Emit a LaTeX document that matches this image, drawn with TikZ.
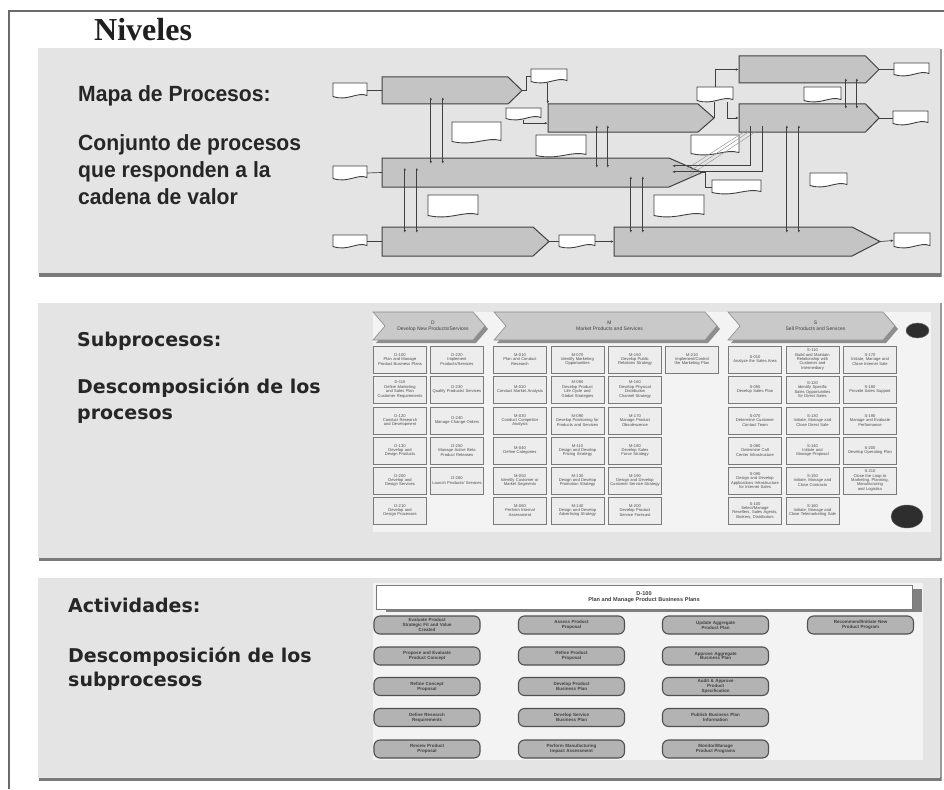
\documentclass[tikz,border=0pt]{standalone}
\usepackage{fontspec}
\setmainfont{Liberation Serif}
\newfontfamily\arialf{Liberation Sans}
\newfontfamily\mapf[FakeStretch=0.96]{Liberation Sans}
\newfontfamily\panelf{DejaVu Sans}
\usetikzlibrary{calc,arrows.meta,shapes.geometric}
\hyphenpenalty=10000
\exhyphenpenalty=10000
\definecolor{panelgray}{HTML}{E4E4E4}
\definecolor{pshadow}{HTML}{9A9A9A}
\definecolor{pshadowdark}{HTML}{7A7A7A}
\definecolor{procfill}{HTML}{C4C4C4}
\definecolor{procline}{HTML}{404040}
\definecolor{innerfill}{HTML}{F3F3F3}
\definecolor{boxfill}{HTML}{EDEDED}
\definecolor{boxline}{HTML}{7A7A7A}
\definecolor{actfill}{HTML}{B3B3B3}
\definecolor{actline}{HTML}{505050}
\definecolor{chevfill}{HTML}{C9C9C9}
\definecolor{chevshadow}{HTML}{8E8E8E}
\definecolor{framec}{HTML}{6A6A6A}
\tikzset{
  frameline/.style={draw=framec, line width=1.1pt},
  panelbox/.style={fill=panelgray, draw=none, inner sep=0pt},
  maptxt/.style={anchor=base west, inner sep=0pt, font=\mapf\bfseries\fontsize{22}{26}\selectfont, text=black!85},
  paneltxt/.style={anchor=base west, inner sep=0pt, font=\panelf\bfseries\fontsize{19}{23}\selectfont, text=black!85},
  proc/.style={fill=procfill, draw=procline, line width=1pt},
  anchorbox/.style={inner sep=0pt, draw=none},
  docline/.style={fill=white, draw=procline, line width=0.9pt},
  lnk/.style={draw=procline, line width=0.7pt},
  arr/.style={lnk, -{Latex[length=3pt,width=2.6pt]}},
  dbl/.style={lnk, {Latex[length=2.6pt,width=2.2pt]}-{Latex[length=2.6pt,width=2.2pt]}},
  diag/.style={draw=black!40, line width=0.5pt},
  sub/.style={draw=boxline, fill=boxfill, line width=0.8pt, minimum width=53pt, minimum height=27pt,
    inner sep=0.3pt, text width=50pt, align=center, font=\arialf\fontsize{4.1}{4.4}\selectfont, text=black!70},
  chevtxt/.style={inner sep=0pt, align=center, font=\arialf\fontsize{5}{5.6}\selectfont, text=black!75},
  hdr/.style={draw=boxline, fill=white, line width=0.9pt, minimum width=536pt, minimum height=24pt, inner sep=0pt,
    align=center, font=\arialf\bfseries\fontsize{5.6}{6.4}\selectfont, text=black!75},
  act/.style={draw=actline, fill=actfill, line width=1.1pt, rounded corners=6pt, minimum width=106pt, minimum height=18pt,
    inner sep=0.3pt, text width=102pt, align=center, font=\arialf\bfseries\fontsize{4.5}{4.9}\selectfont, text=black!75},
  disc/.style={ellipse, fill=black!82, draw=black!60, inner sep=0pt}
}
% process pentagon: name, xl, yt, xtip, yb, tiplength
\newcommand\procshape[6]{%
  \draw[proc] (#2,#3) -- ({#4-#6},#3) -- (#4,{(#3+#5)/2}) -- ({#4-#6},#5) -- (#2,#5) -- cycle;
  \node[anchorbox, minimum width={#4-#2}, minimum height={#5-#3}] (#1) at ({(#2+#4)/2},{(#3+#5)/2}) {};}
% document: name, xl, yt, xr, yb
\newcommand\docshape[5]{%
  \node[anchorbox, minimum width={#4-#2}, minimum height={#5-#3}] (#1) at ({(#2+#4)/2},{(#3+#5)/2}) {};
  \draw[docline] (#2,#3) -- (#4,#3) -- (#4,{#5-2.5})
     .. controls ({#4-0.3*(#4-#2)},{#5-6.5}) and ({#2+0.45*(#4-#2)},{#5+3.5}) .. (#2,{#5-1.5}) -- cycle;}
% chevron: name, xl, yt, xr, yb, text
\newcommand\chevshape[6]{%
  \begin{scope}[shift={(3,3)}]
  \fill[chevshadow] (#2,#3) -- ({#4-12},#3) -- (#4,{(#3+#5)/2}) -- ({#4-12},#5) -- (#2,#5) -- ({#2+12},{(#3+#5)/2}) -- cycle;
  \end{scope}
  \draw[fill=chevfill, draw=black!45, line width=0.6pt] (#2,#3) -- ({#4-12},#3) -- (#4,{(#3+#5)/2}) -- ({#4-12},#5) -- (#2,#5) -- ({#2+12},{(#3+#5)/2}) -- cycle;
  \node[chevtxt] (#1) at ({(#2+#4)/2+4},{(#3+#5)/2}) {#6};}
\begin{document}
\begin{tikzpicture}[x=1pt,y=-1pt]
\useasboundingbox (0,0) rectangle (944,789);
\fill[white] (0,0) rectangle (944,789);
\draw[frameline] (9,789) -- (9,11) -- (944,11);
\node[anchor=base west, inner sep=0pt, font=\bfseries\fontsize{32}{35}\selectfont, text=black!88] (title) at (94,41) {Niveles};

% ---------------- panel 1 ----------------
\fill[pshadow] (39,49) rectangle (942,277);
\fill[pshadowdark] (39,273) rectangle (941,277);
\node[panelbox, minimum width=902pt, minimum height=225pt] (p1) at (489,160.5) {};
\node[maptxt] (t1a) at (78,102) {Mapa de Procesos:};
\node[maptxt] (t1b) at (78,150) {Conjunto de procesos};
\node[maptxt] (t1c) at (78,177) {que responden a la};
\node[maptxt] (t1d) at (78,204) {cadena de valor};

\procshape{A}{382}{77}{522}{104}{14}
\procshape{B}{548}{104}{714}{132}{16}
\procshape{C}{382}{158}{702}{187}{33}
\procshape{D}{739}{56}{879}{83}{13.5}
\procshape{E}{739}{104}{879}{132}{13.5}
\procshape{F}{382}{227}{549}{256}{16}
\procshape{G}{614}{227}{880}{256}{28}

\docshape{dAin}{333}{83}{367}{98}
\docshape{dAout}{531}{69}{567}{83}
\docshape{dBin}{506}{108}{541}{120}
\docshape{dAC}{452}{122}{501}{143}
\docshape{dBunder}{536}{135}{586}{157}
\docshape{dBD}{697}{87}{733}{102}
\docshape{dDE}{804}{87}{841}{102}
\docshape{dBtip}{691}{135}{739}{155}
\docshape{dCin}{333}{166}{367}{180}
\docshape{dCout}{712}{180}{761}{194}
\docshape{dMid}{810}{173}{847}{187}
\docshape{dCF}{428}{195}{478}{217}
\docshape{dCG}{654}{195}{704}{217}
\docshape{dFin}{333}{235}{367}{248}
\docshape{dFG}{559}{235}{595}{248}
\docshape{dDout}{894}{63}{929}{76}
\docshape{dEout}{893}{111}{928}{125}
\docshape{dGout}{894}{233}{930}{248}

% inputs / outputs
\draw[lnk] (dAin.east) -- (A.west);
\draw[lnk] (dCin.east) -- (C.west);
\draw[lnk] (dFin.east) -- (F.west);
\draw[lnk] (A.east) -- ++(4,0) |- (dAout.west);
\draw[arr] (dAout.south -| B.north west) -- (B.north west);
\draw[arr] (dBin.south) |- ($(B.south west)+(0,-9)$);
\draw[lnk] (B.east) -- (B.east |- dBD.south);
\draw[arr] (dBD.north) |- (D.west);
\draw[arr] ($(dBD.south)+(12,0)$) |- (E.west);
\draw[lnk] (D.east) -- (dDout.west);
\draw[lnk] (E.east) -- (dEout.west);
\draw[lnk] (F.east) -- (dFG.west);
\draw[arr] (dFG.east) -- (G.west);
\draw[arr] (G.east) -- (dGout.west);
\draw[lnk] (C.east) -- ++(3,0) |- (dCout.west);
% vertical exchanges
\draw[dbl] ($(A.south west)+(49,-7)$) -- ($(C.north west)+(49,6)$);
\draw[dbl] ($(A.south west)+(61,-7)$) -- ($(C.north west)+(61,6)$);
\draw[dbl] ($(B.south west)+(49,-7)$) -- ($(C.north west)+(215,10)$);
\draw[dbl] ($(B.south west)+(60,-7)$) -- ($(C.north west)+(226,10)$);
\draw[dbl] ($(C.north west)+(23,10)$) -- ($(F.north west)+(23,6)$);
\draw[dbl] ($(C.north west)+(35,10)$) -- ($(F.north west)+(35,6)$);
\draw[dbl] ($(C.south west)+(249,-11)$) -- ($(G.north west)+(17,6)$);
\draw[dbl] ($(C.south west)+(261,-11)$) -- ($(G.north west)+(29,6)$);
\draw[dbl] ($(E.south west)+(48,-7)$) -- ($(G.north west)+(173,6)$);
\draw[dbl] ($(E.south west)+(60,-7)$) -- ($(G.north west)+(185,6)$);
\draw[dbl] ($(D.south west)+(107,-5)$) -- ($(E.north west)+(107,5)$);
\draw[dbl] ($(D.south west)+(118,-5)$) -- ($(E.north west)+(118,5)$);
% E to C
\draw[diag] ($(E.south west)+(8,-2)$) -- ($(C.east)+(-15,-4)$);
\draw[diag] ($(E.south west)+(11,-1)$) -- ($(C.east)+(-13,-1)$);
\draw[diag] ($(E.south west)+(16,0)$) -- ($(C.east)+(-13,3)$);
\draw[arr] ($(E.south west)+(12,-6)$) |- ($(C.north east)+(-30,8)$);
\draw[arr] ($(E.south west)+(24,-6)$) |- ($(C.north east)+(-30,14)$);

% ---------------- panel 2 ----------------
\fill[pshadow] (39,303) rectangle (942,561);
\fill[pshadowdark] (39,557) rectangle (941,561);
\node[panelbox, minimum width=902pt, minimum height=255pt] (p2) at (489,430) {};
\node[paneltxt] (t2a) at (77,346) {Subprocesos:};
\node[paneltxt] (t2b) at (77,393) {Descomposición de los};
\node[paneltxt] (t2c) at (77,419) {procesos};
\node[panelbox, fill=innerfill, minimum width=558pt, minimum height=220pt] (in2) at (652,422) {};

\chevshape{chD}{373}{312}{485}{340}{D\\Develop New Products/Services}
\chevshape{chM}{494}{312}{717}{340}{M\\Market Products and Services}
\chevshape{chS}{728}{312}{895}{340}{S\\Sell Products and Services}
\node[disc, minimum width=23pt, minimum height=15pt] (k1) at (917.5,330.5) {};
\node[disc, minimum width=32pt, minimum height=23pt] (k2) at (907,516.5) {};

% D columns
\node[sub] (d1) at (400,359.5) {D-100\\Plan and Manage Product Business Plans};
\node[sub] (d2) at (400,389.5) {D-110\\Define Marketing and Sales Plan Customer Requirements};
\node[sub] (d3) at (400,420.5) {D-120\\Conduct Research and Development};
\node[sub] (d4) at (400,450.5) {D-130\\Develop and Design Products};
\node[sub] (d5) at (400,480.5) {D-200\\Develop and Design Services};
\node[sub] (d6) at (400,510.5) {D-210\\Develop and Design Processes};
\node[sub] (d7) at (457,359.5) {D-220\\Implement Products/Services};
\node[sub] (d8) at (457,389.5) {D-230\\Qualify Products/ Services};
\node[sub] (d9) at (457,420.5) {D-240\\Manage Change Orders};
\node[sub] (d10) at (457,450.5) {D-250\\Manage Active Beta Product Releases};
\node[sub] (d11) at (457,480.5) {D-260\\Launch Products/ Services};
% M columns
\node[sub] (m1) at (520,359.5) {M-010\\Plan and Conduct Research};
\node[sub] (m2) at (520,389.5) {M-020\\Conduct Market Analysis};
\node[sub] (m3) at (520,420.5) {M-030\\Conduct Competitor Analysis};
\node[sub] (m4) at (520,450.5) {M-040\\Define Categories};
\node[sub] (m5) at (520,480.5) {M-050\\Identify Customer or Market Segments};
\node[sub] (m6) at (520,510.5) {M-060\\Perform Internal Assessment};
\node[sub] (m7) at (577.5,359.5) {M-070\\Identify Marketing Opportunities};
\node[sub] (m8) at (577.5,389.5) {M-080\\Develop Product Life Cycle and Global Strategies};
\node[sub] (m9) at (577.5,420.5) {M-090\\Develop Positioning for Products and Services};
\node[sub] (m10) at (577.5,450.5) {M-110\\Design and Develop Pricing Strategy};
\node[sub] (m11) at (577.5,480.5) {M-130\\Design and Develop Promotion Strategy};
\node[sub] (m12) at (577.5,510.5) {M-140\\Design and Develop Advertising Strategy};
\node[sub] (m13) at (635,359.5) {M-150\\Develop Public Relations Strategy};
\node[sub] (m14) at (635,389.5) {M-160\\Develop Physical Distribution Channel Strategy};
\node[sub] (m15) at (635,420.5) {M-170\\Manage Product Obsolescence};
\node[sub] (m16) at (635,450.5) {M-180\\Develop Sales Force Strategy};
\node[sub] (m17) at (635,480.5) {M-190\\Design and Develop Customer Service Strategy};
\node[sub] (m18) at (635,510.5) {M-200\\Develop Product Service Forecast};
\node[sub] (m19) at (692,359.5) {M-210\\Implement/Control the Marketing Plan};
% S columns
\node[sub] (s1) at (755,359.5) {S-010\\Analyze the Sales Area};
\node[sub] (s2) at (755,389.5) {S-050\\Develop Sales Plan};
\node[sub] (s3) at (755,420.5) {S-070\\Determine Customer Contact Team};
\node[sub] (s4) at (755,450.5) {S-080\\Determine Call Center Infrastructure};
\node[sub] (s5) at (755,480.5) {S-090\\Design and Develop Applications Infrastructure for Internet Sales};
\node[sub] (s6) at (755,510.5) {S-100\\Select/Manage Resellers, Sales Agents, Brokers, Distributors};
\node[sub] (s7) at (812.5,359.5) {S-110\\Build and Maintain Relationship with Customer and Intermediary};
\node[sub] (s8) at (812.5,389.5) {S-120\\Identify Specific Sales Opportunities for Direct Sales};
\node[sub] (s9) at (812.5,420.5) {S-130\\Initiate, Manage and Close Direct Sale};
\node[sub] (s10) at (812.5,450.5) {S-140\\Initiate and Manage Proposal};
\node[sub] (s11) at (812.5,480.5) {S-150\\Initiate, Manage and Close Contracts};
\node[sub] (s12) at (812.5,510.5) {S-160\\Initiate, Manage and Close Telemarketing Sale};
\node[sub] (s13) at (870,359.5) {S-170\\Initiate, Manage and Close Internet Sale};
\node[sub] (s14) at (870,389.5) {S-180\\Provide Sales Support};
\node[sub] (s15) at (870,420.5) {S-190\\Manage and Evaluate Performance};
\node[sub] (s16) at (870,450.5) {S-200\\Develop Operating Plan};
\node[sub] (s17) at (870,480.5) {S-210\\Close the Loop to Marketing, Planning, Manufacturing and Logistics};

% ---------------- panel 3 ----------------
\fill[pshadow] (39,578) rectangle (942,781);
\fill[pshadowdark] (39,777) rectangle (941,781);
\node[panelbox, minimum width=902pt, minimum height=200pt] (p3) at (489,677.5) {};
\node[paneltxt] (t3a) at (68,612) {Actividades:};
\node[paneltxt] (t3b) at (68,662) {Descomposición de los};
\node[paneltxt] (t3c) at (68,686) {subprocesos};
\node[panelbox, fill=innerfill, minimum width=550pt, minimum height=177pt] (in3) at (648,671.5) {};
\fill[black!50] (386,589) rectangle (922,612);
\node[hdr] (h) at (644,597) {D-100\\Plan and Manage Product Business Plans};

\node[act] (a1) at (427,625) {Evaluate Product\\Strategic Fit and Value\\Created};
\node[act] (a2) at (427,656) {Propose and Evaluate\\Product Concept};
\node[act] (a3) at (427,686.5) {Refine Concept\\Proposal};
\node[act] (a4) at (427,717.5) {Define Research\\Requirements};
\node[act] (a5) at (427,749) {Review Product\\Proposal};
\node[act] (a6) at (571.5,625) {Assess Product\\Proposal};
\node[act] (a7) at (571.5,656) {Refine Product\\Proposal};
\node[act] (a8) at (571.5,686.5) {Develop Product\\Business Plan};
\node[act] (a9) at (571.5,717.5) {Develop Service\\Business Plan};
\node[act] (a10) at (571.5,749) {Perform Manufacturing\\Impact Assessment};
\node[act] (a11) at (715.5,625) {Update Aggregate\\Product Plan};
\node[act] (a12) at (715.5,656) {Approve Aggregate\\Business Plan};
\node[act] (a13) at (715.5,686.5) {Audit \& Approve\\Product\\Specification};
\node[act] (a14) at (715.5,717.5) {Publish Business Plan\\Information};
\node[act] (a15) at (715.5,749) {Monitor/Manage\\Product Programs};
\node[act] (a16) at (860.5,625) {Recommend/Initiate New\\Product Program};
\end{tikzpicture}
\end{document}
